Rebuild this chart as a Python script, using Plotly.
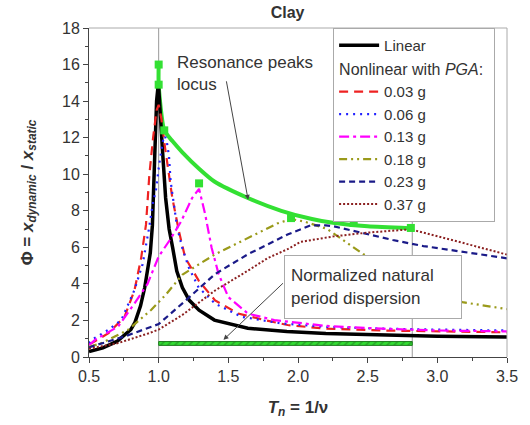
import plotly.graph_objects as go

# ---------------- data ----------------
T_lin = [0.5, 0.6, 0.7, 0.75, 0.8, 0.83, 0.87, 0.9, 0.94, 0.955, 0.968, 0.985, 0.998, 1.012, 1.03, 1.05, 1.075, 1.1, 1.13, 1.17, 1.22, 1.29, 1.4, 1.64, 1.92, 2.2, 2.5, 3.0, 3.5]
phi_lin = [0.3, 0.5, 0.85, 1.15, 1.5, 1.9, 2.8, 3.8, 5.7, 7.2, 10.8, 14.0, 15.0, 13.5, 11.0, 8.7, 7.0, 6.0, 4.7, 3.8, 3.1, 2.56, 2.02, 1.57, 1.39, 1.28, 1.22, 1.14, 1.1]

T_003 = [0.5, 0.52, 0.64, 0.755, 0.826, 0.874, 0.909, 0.933, 0.96, 0.985, 1.0, 1.02, 1.045, 1.062, 1.098, 1.145, 1.19, 1.287, 1.405, 1.57, 1.76, 1.925, 2.2, 2.6, 3.0, 3.5]
phi_003 = [0.7, 0.76, 1.3, 2.2, 3.64, 5.4, 7.24, 9.95, 12.0, 13.5, 13.8, 13.0, 11.5, 10.5, 8.7, 6.9, 5.44, 4.18, 3.1, 2.38, 2.02, 1.75, 1.55, 1.45, 1.4, 1.35]

T_006 = [0.5, 0.52, 0.637, 0.732, 0.826, 0.885, 0.93, 0.96, 0.98, 1.003, 1.03, 1.045, 1.06, 1.074, 1.086, 1.133, 1.169, 1.216, 1.287, 1.405, 1.594, 1.878, 2.2, 2.6, 3.0, 3.5]
phi_006 = [0.75, 0.94, 1.48, 2.02, 3.66, 5.08, 7.0, 8.5, 9.1, 10.5, 11.8, 12.1, 11.7, 11.0, 9.6, 7.07, 5.98, 4.9, 3.8, 2.92, 2.2, 1.84, 1.65, 1.55, 1.5, 1.45]

T_013 = [0.5, 0.543, 0.708, 0.826, 0.92, 1.0, 1.08, 1.16, 1.24, 1.29, 1.334, 1.38, 1.43, 1.5, 1.64, 1.83, 2.2, 2.6, 3.0, 3.5]
phi_013 = [0.65, 0.94, 1.66, 2.92, 4.0, 5.5, 6.4, 7.4, 8.7, 9.2, 7.8, 5.98, 4.54, 3.28, 2.38, 2.02, 1.7, 1.55, 1.45, 1.4]

T_018 = [0.5, 0.59, 0.779, 0.944, 1.05, 1.169, 1.405, 1.64, 1.85, 1.95, 2.05, 2.21, 2.35, 2.47, 2.7, 2.9, 3.18, 3.5]
phi_018 = [0.55, 0.76, 1.48, 2.56, 3.4, 4.5, 5.62, 6.52, 7.3, 7.55, 7.4, 7.0, 6.25, 5.62, 4.5, 3.6, 3.0, 2.62]

T_023 = [0.5, 0.52, 0.755, 1.0, 1.18, 1.405, 1.64, 1.78, 1.925, 2.09, 2.2, 2.257, 2.45, 2.68, 2.9, 3.2, 3.46, 3.5]
phi_023 = [0.5, 0.58, 1.12, 1.8, 3.0, 4.54, 5.62, 6.16, 6.7, 7.2, 7.2, 7.15, 6.8, 6.4, 6.07, 5.75, 5.44, 5.4]

T_037 = [0.5, 0.708, 0.93, 1.0, 1.17, 1.405, 1.64, 1.78, 1.925, 2.02, 2.257, 2.49, 2.78, 2.85, 3.18, 3.5]
phi_037 = [0.45, 0.76, 1.3, 1.5, 2.3, 3.64, 4.72, 5.4, 5.9, 6.3, 6.6, 6.8, 6.97, 6.9, 6.25, 5.6]

# resonance peaks locus
T_loc = [1.0, 1.0, 1.04, 1.1, 1.17, 1.29, 1.4, 1.64, 1.88, 2.1, 2.25, 2.5, 2.8]
phi_loc = [16.0, 14.9, 12.4, 11.8, 11.2, 10.3, 9.6, 8.7, 8.0, 7.55, 7.35, 7.15, 7.05]
T_pk = [1.0, 1.0, 1.04, 1.29, 1.95, 2.4, 2.81]
phi_pk = [16.0, 14.9, 12.4, 9.5, 7.6, 7.33, 7.06]

# natural period dispersion
disp_T = [1.0, 2.82]
disp_level = 0.74

pga_labels = ["0.03 g", "0.06 g", "0.13 g", "0.18 g", "0.23 g", "0.37 g"]
x_ticks = [0.5, 1.0, 1.5, 2.0, 2.5, 3.0, 3.5]
x_ticktext = ["0.5", "1.0", "1.5", "2.0", "2.5", "3.0", "3.5"]
y_ticks = [0, 2, 4, 6, 8, 10, 12, 14, 16, 18]

FONT = "Arial, Liberation Sans, sans-serif"
TXT = "#333333"

fig = go.Figure()

# vertical dispersion limits
for t in disp_T:
    fig.add_shape(type="line", xref="x", yref="paper", x0=t, x1=t, y0=0, y1=1,
                  line=dict(color="#9a9a9a", width=1), layer="below")

# dispersion bar
fig.add_trace(go.Bar(x=[disp_T[1] - disp_T[0]], base=[disp_T[0]], y=[disp_level],
                     orientation="h", width=0.21, showlegend=False,
                     marker=dict(color="#33dd33", line=dict(color="#1f7a1f", width=1),
                                 pattern=dict(shape="/", fgcolor="#1f6a1f", size=5, solidity=0.3,
                                              fillmode="overlay"))))

# locus
fig.add_trace(go.Scatter(x=T_loc, y=phi_loc, mode="lines", showlegend=False,
                         line=dict(color="#33e033", width=4, shape="spline", smoothing=0.6)))

series = [
    (T_003, phi_003, pga_labels[0], "#ee2222", "9px,6px", 2.2),
    (T_006, phi_006, pga_labels[1], "#2222ff", "2px,5px", 2.2),
    (T_013, phi_013, pga_labels[2], "#ff00ff", "10px,4px,3px,4px", 2.2),
    (T_018, phi_018, pga_labels[3], "#9a9a1a", "8px,4px,2px,4px,2px,4px", 2.2),
    (T_023, phi_023, pga_labels[4], "#1a1a88", "6px,4px", 2.2),
    (T_037, phi_037, pga_labels[5], "#8b2020", "2px,2px", 2.0),
]

fig.add_trace(go.Scatter(x=T_lin, y=phi_lin, mode="lines", name="Linear",
                         legendgroup="lin", line=dict(color="black", width=3.5)))

for i, (tx, ty, name, col, dash, w) in enumerate(series):
    kw = {}
    if i == 0:
        kw["legendgrouptitle"] = dict(text="Nonlinear with <i>PGA</i>:",
                                      font=dict(size=16, color=TXT, family=FONT))
    fig.add_trace(go.Scatter(x=tx, y=ty, mode="lines", name=name, legendgroup="nl",
                             line=dict(color=col, width=w, dash=dash), **kw))

# peak markers
fig.add_trace(go.Scatter(x=T_pk, y=phi_pk, mode="markers", showlegend=False,
                         marker=dict(symbol="square", size=8, color="#33e033")))

# borders top/right
fig.add_shape(type="line", xref="paper", yref="paper", x0=0, x1=1, y0=1, y1=1,
              line=dict(color="#aaaaaa", width=1))
fig.add_shape(type="line", xref="paper", yref="paper", x0=1, x1=1, y0=0, y1=1,
              line=dict(color="#aaaaaa", width=1))

# annotations
fig.add_annotation(x=1.117, y=16.74, xref="x", yref="y", xanchor="left", yanchor="top",
                   text="Resonance peaks<br>locus", showarrow=False, align="left",
                   font=dict(size=17, color=TXT, family=FONT))
fig.add_annotation(x=1.642, y=8.6, xref="x", yref="y", text="", showarrow=True,
                   ax=-22, ay=-120, arrowhead=2, arrowsize=1, arrowwidth=1, arrowcolor="#444")
fig.add_annotation(x=1.465, y=0.94, xref="x", yref="y", text="", showarrow=True,
                   ax=61, ay=-58, arrowhead=2, arrowsize=1, arrowwidth=1, arrowcolor="#444")
fig.add_annotation(x=1.9, y=5.6, xref="x", yref="y", xanchor="left", yanchor="top",
                   text="Normalized natural<br>period dispersion", showarrow=False, align="left",
                   width=164, height=50, borderpad=6, bordercolor="#aaaaaa", borderwidth=1,
                   bgcolor="white", font=dict(size=17, color=TXT, family=FONT))

fig.update_layout(
    width=530, height=425,
    margin=dict(l=89, r=18, t=28, b=64),
    plot_bgcolor="white", paper_bgcolor="white",
    font=dict(family=FONT, color=TXT, size=16),
    title=dict(text="<b>Clay</b>", x=0.475, xanchor="center", y=1 - 12 / 425, yanchor="middle",
               xref="paper", font=dict(size=16, color=TXT, family=FONT)),
    barmode="overlay",
    legend=dict(x=0.584, y=1.0, xanchor="left", yanchor="top", bgcolor="white",
                bordercolor="#aaaaaa", borderwidth=1, font=dict(size=15, color=TXT, family=FONT),
                itemwidth=40, tracegroupgap=0, traceorder="grouped",
                entrywidth=135, entrywidthmode="pixels"),
    xaxis=dict(range=[0.5, 3.5], tickvals=x_ticks, ticktext=x_ticktext, showgrid=False,
               zeroline=False, showline=True, linecolor="#444", ticks="outside", ticklen=5,
               tickcolor="#444", tickfont=dict(size=16, color=TXT),
               minor=dict(dtick=0.25, ticks="outside", ticklen=3, tickcolor="#444"),
               title=dict(text="<b><i>T</i><sub><i>n</i></sub> = 1/ν</b>", standoff=16,
                          font=dict(size=17, color=TXT, family=FONT))),
    yaxis=dict(range=[0, 18], tickvals=y_ticks, showgrid=False, zeroline=False, showline=True,
               linecolor="#444", ticks="outside", ticklen=5, tickcolor="#444",
               tickfont=dict(size=16, color=TXT),
               minor=dict(dtick=1, ticks="outside", ticklen=3, tickcolor="#444"),
               title=dict(text="<b>Φ = <i>x</i><sub><i>dynamic</i></sub> / <i>x</i><sub><i>static</i></sub></b>",
                          standoff=24, font=dict(size=17, color=TXT, family=FONT))),
)

fig.write_html("out.html")
